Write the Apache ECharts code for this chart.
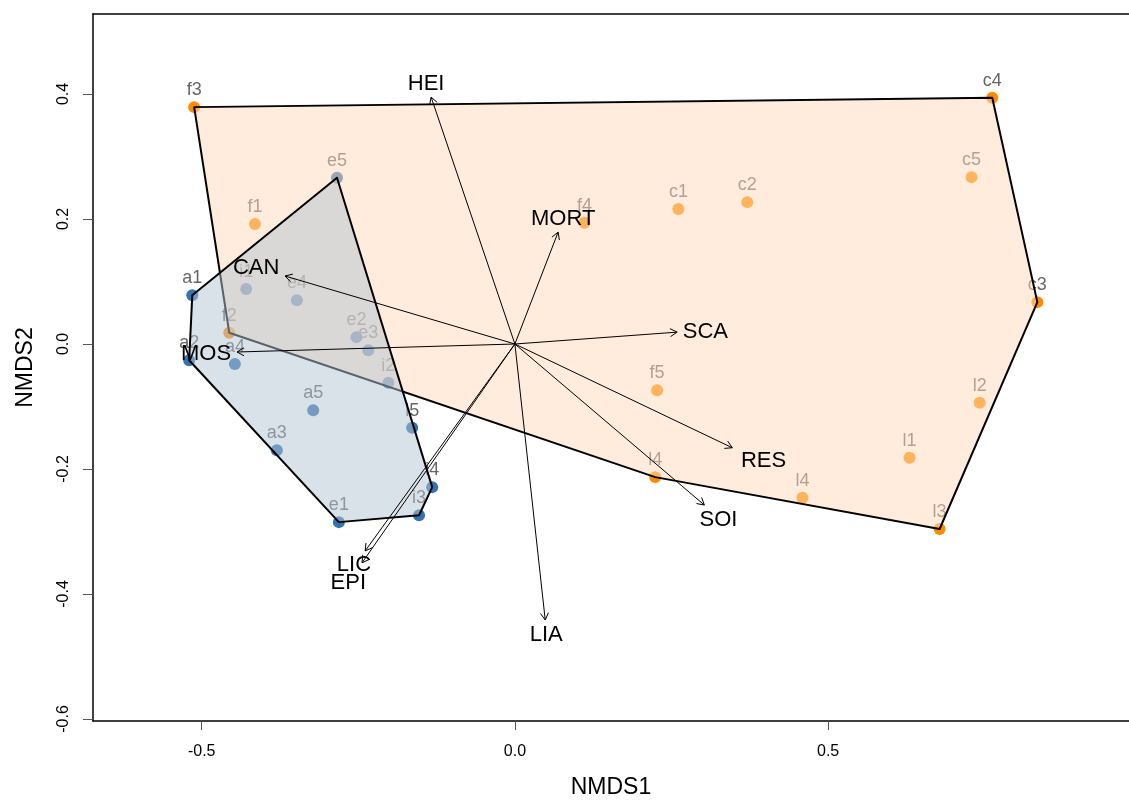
<!DOCTYPE html>
<html><head><meta charset="utf-8">
<script src="https://cdn.jsdelivr.net/npm/echarts@6/dist/echarts.min.js"></script>
<style>html,body{margin:0;padding:0;background:#fff}#c{width:1129px;height:800px}</style>
</head><body><div id="c"></div>
<script>
// ---- data ----
const orangeNames = ['f3','f1','f2','f4','f5','c1','c2','c4','c5','c3','l2','l1','l3','l4','l4'];
const orangeX = [-0.512,-0.415,-0.456,0.111,0.227,0.261,0.371,0.762,0.729,0.834,0.742,0.630,0.678,0.224,0.459];
const orangeY = [0.379,0.192,0.018,0.194,-0.074,0.216,0.227,0.394,0.267,0.067,-0.094,-0.182,-0.296,-0.213,-0.246];

const blueNames = ['a1','a2','a4','a5','a3','e1','i3','i4','i5','i2','e3','e2','e4','i1','e5'];
const blueX = [-0.515,-0.520,-0.447,-0.322,-0.380,-0.281,-0.153,-0.132,-0.164,-0.202,-0.234,-0.253,-0.348,-0.429,-0.284];
const blueY = [0.078,-0.026,-0.032,-0.106,-0.170,-0.285,-0.274,-0.229,-0.134,-0.062,-0.010,0.011,0.070,0.088,0.266];

const envNames = ['HEI','MORT','SCA','RES','SOI','LIA','LIC','EPI','CAN','MOS'];
const envX = [-0.1337,0.069,0.259,0.347,0.3024,0.0484,-0.239,-0.244,-0.3669,-0.4436];
const envY = [0.395,0.179,0.019,-0.166,-0.2576,-0.4416,-0.331,-0.350,0.1088,-0.0128];
const envLabelX = [-0.1417,0.077,0.304,0.397,0.325,0.050,-0.257,-0.266,-0.413,-0.493];
const envLabelY = [0.416,0.200,0.019,-0.187,-0.282,-0.466,-0.354,-0.382,0.122,-0.016];

const xTicks = [-0.5,0,0.5];
const yTicks = [-0.6,-0.4,-0.2,0,0.2,0.4];

// ---- helpers ----
function hull(xs, ys){
  const p = xs.map((x,i)=>[x,ys[i]]).sort((a,b)=>a[0]-b[0]||a[1]-b[1]);
  const cr=(o,a,b)=>(a[0]-o[0])*(b[1]-o[1])-(a[1]-o[1])*(b[0]-o[0]);
  const lo=[],up=[];
  for(const q of p){while(lo.length>=2&&cr(lo[lo.length-2],lo[lo.length-1],q)<=0)lo.pop();lo.push(q);}
  for(let i=p.length-1;i>=0;i--){const q=p[i];while(up.length>=2&&cr(up[up.length-2],up[up.length-1],q)<=0)up.pop();up.push(q);}
  up.pop();lo.pop();return lo.concat(up);
}
const FONT = '"Liberation Sans", Arial, Helvetica, sans-serif';
const ORANGE = '#ff8c00', BLUE = '#3473b0';

function hullSeries(xs, ys, fill, z){
  const h = hull(xs, ys);
  return {
    type:'custom', z:z, silent:true, data:[[0,0]],
    renderItem:(params, api)=>({
      type:'polygon',
      shape:{points:h.map(p=>api.coord(p))},
      style:{fill:fill, stroke:'#000', lineWidth:2, lineJoin:'round'}
    })
  };
}

const chart = echarts.init(document.getElementById('c'));
const option = {
  animation:false,
  grid:{left:93, right:0, top:14, bottom:79, containLabel:false, outerBoundsMode:'none'},
  xAxis:[{
    type:'value', min:-0.6735, max:0.9803, position:'bottom',
    splitLine:{show:false},
    axisLine:{show:true, onZero:false, lineStyle:{color:'#000', width:1.5}},
    axisTick:{show:true, length:9, customValues:xTicks, lineStyle:{color:'#555'}},
    axisLabel:{customValues:xTicks, formatter:v=>v.toFixed(1), fontSize:16, color:'#000', fontFamily:FONT, margin:23},
    name:'NMDS1', nameLocation:'middle', nameGap:55,
    nameTextStyle:{fontSize:23, color:'#000', fontFamily:FONT}
  },{
    type:'value', min:-0.6735, max:0.9803, position:'top',
    splitLine:{show:false},
    axisLine:{show:true, onZero:false, lineStyle:{color:'#000', width:1.5}},
    axisTick:{show:false}, axisLabel:{show:false}
  }],
  yAxis:{
    type:'value', min:-0.6032, max:0.528,
    splitLine:{show:false},
    axisLine:{show:true, onZero:false, lineStyle:{color:'#000', width:1.5}},
    axisTick:{show:true, length:10, customValues:yTicks, lineStyle:{color:'#555'}},
    axisLabel:{customValues:yTicks, formatter:v=>v.toFixed(1), rotate:90, fontSize:16, color:'#000', fontFamily:FONT, margin:21},
    name:'NMDS2', nameLocation:'middle', nameGap:56, nameRotate:90,
    nameTextStyle:{fontSize:23, color:'#000', fontFamily:FONT}
  },
  series:[
    {
      type:'scatter', z:2, symbolSize:12, silent:true,
      itemStyle:{color:ORANGE, opacity:1},
      data:orangeNames.map((n,i)=>({name:n, value:[orangeX[i], orangeY[i]]})),
      label:{show:true, position:'top', distance:2, formatter:'{b}', fontSize:18, color:'#666', fontFamily:FONT}
    },
    {
      type:'scatter', z:2, symbolSize:12, silent:true,
      itemStyle:{color:BLUE, opacity:1},
      data:blueNames.map((n,i)=>({name:n, value:[blueX[i], blueY[i]]})),
      label:{show:true, position:'top', distance:2, formatter:'{b}', fontSize:18, color:'#666', fontFamily:FONT}
    },
    hullSeries(orangeX, orangeY, 'rgba(255,218,185,0.5)', 3),
    hullSeries(blueX, blueY, 'rgba(179,197,211,0.5)', 4),
    {
      type:'custom', z:5, silent:true,
      data:envNames.map((n,i)=>[envX[i], envY[i]]),
      renderItem:(params, api)=>{
        const o = api.coord([0,0]);
        const t = api.coord([api.value(0), api.value(1)]);
        const a = Math.atan2(t[1]-o[1], t[0]-o[0]);
        const L = 8, ang = Math.PI/6;
        const p1 = [t[0]-L*Math.cos(a-ang), t[1]-L*Math.sin(a-ang)];
        const p2 = [t[0]-L*Math.cos(a+ang), t[1]-L*Math.sin(a+ang)];
        return {type:'group', children:[
          {type:'line', shape:{x1:o[0],y1:o[1],x2:t[0],y2:t[1]}, style:{stroke:'#000', lineWidth:1}},
          {type:'polyline', shape:{points:[p1,t,p2]}, style:{stroke:'#000', lineWidth:1, fill:null}}
        ]};
      }
    },
    {
      type:'custom', z:6, silent:true,
      data:envNames.map((n,i)=>[envLabelX[i], envLabelY[i], i]),
      renderItem:(params, api)=>{
        const p = api.coord([api.value(0), api.value(1)]);
        return {type:'text', style:{text:envNames[api.value(2)], x:p[0], y:p[1], align:'center', verticalAlign:'middle',
          fontSize:22, fill:'#000', fontFamily:FONT}};
      }
    }
  ]
};
chart.setOption(option);
</script></body></html>
